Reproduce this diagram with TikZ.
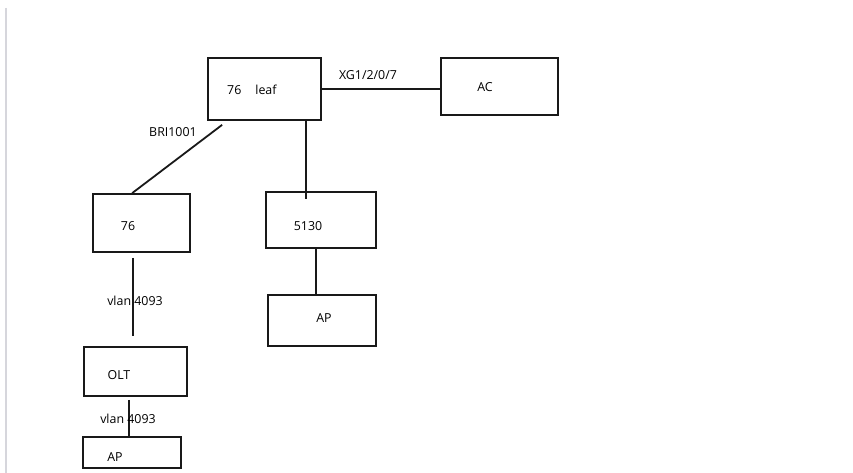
\documentclass[tikz,border=0pt]{standalone}
\usepackage{fontspec}
\setmainfont{Open Sans}
\usetikzlibrary{calc}

\begin{document}
\begin{tikzpicture}[x=1pt,y=-1pt,
    box/.style={draw=black!90,line width=1.7pt,inner sep=0pt},
    link/.style={draw=black!90,line width=1.8pt},
    lbl/.style={font=\fontsize{12.4}{14}\selectfont,inner sep=0pt,text=black}]
  \useasboundingbox (0,0) rectangle (853,473);
  \draw[line width=2pt,blue!8!gray!30] (6,8) -- (6,473);
  \node[box,minimum width=113pt,minimum height=62pt] (leaf) at (264.5,89) {};
  \node[box,minimum width=117pt,minimum height=57pt] (ac) at (499.5,86.5) {};
  \node[box,minimum width=97pt,minimum height=58pt] (n76) at (141.5,223) {};
  \node[box,minimum width=110pt,minimum height=56pt] (sw) at (321,220) {};
  \node[box,minimum width=108pt,minimum height=51pt] (ap2) at (322,320.5) {};
  \node[box,minimum width=103pt,minimum height=49pt] (olt) at (135.5,371.5) {};
  \node[box,minimum width=98pt,minimum height=31pt] (ap1) at (132,452.5) {};
  \node[lbl,anchor=west] (leaft) at (227,90) {76\hspace{14pt}leaf};
  \node[lbl] (act) at (485,87) {AC};
  \node[lbl] (n76t) at (128,226) {76};
  \node[lbl] (swt) at (308,226) {5130};
  \node[lbl] (ap2t) at (324,318) {AP};
  \node[lbl] (oltt) at (119,375) {OLT};
  \node[lbl] (ap1t) at (115,457) {AP};
  \draw[link] (leaf.east) -- (leaf.east -| ac.west);
  \draw[link] ($(leaf.south west)+(15,4)$) -- ($(n76.north west)+(40,0)$);
  \draw[link] ($(leaf.south west)+(99,0)$) -- ($(sw.north west)+(41,8)$);
  \draw[link] ($(sw.south west)+(51,0)$) -- ($(ap2.north west)+(49,0)$);
  \draw[link] ($(n76.south west)+(41,5)$) -- ($(olt.north west)+(50,-10)$);
  \draw[link] ($(olt.south west)+(46,3)$) -- ($(ap1.north west)+(47,0)$);
  \node[lbl] (xg) at (368,75) {XG1/2/0/7};
  \node[lbl] (bri) at (173,132) {BRI1001};
  \node[lbl] (vl1) at (135,301) {vlan 4093};
  \node[lbl] (vl2) at (128,419) {vlan 4093};
\end{tikzpicture}
\end{document}
